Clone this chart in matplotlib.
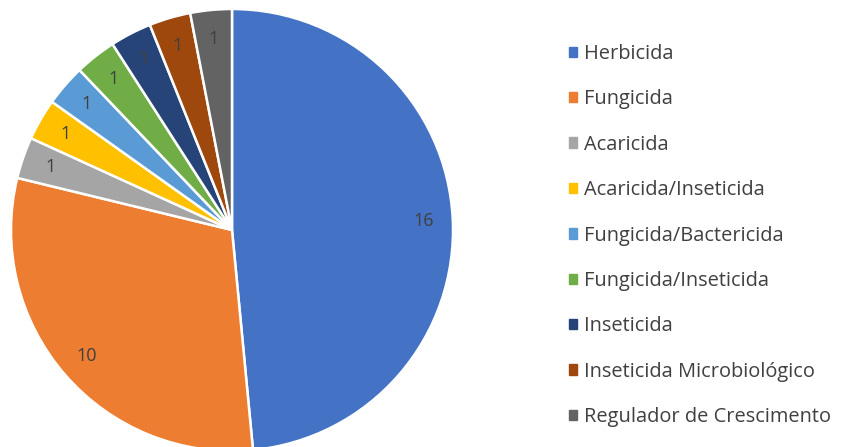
import matplotlib

matplotlib.use("Agg")
import matplotlib.pyplot as plt
from matplotlib.patches import Patch

categories = [
    "Herbicida",
    "Fungicida",
    "Acaricida",
    "Acaricida/Inseticida",
    "Fungicida/Bactericida",
    "Fungicida/Inseticida",
    "Inseticida",
    "Inseticida Microbiológico",
    "Regulador de Crescimento",
]
counts = [16, 10, 1, 1, 1, 1, 1, 1, 1]
colors = [
    "#4472C4", "#ED7D31", "#A5A5A5", "#FFC000", "#5B9BD5",
    "#70AD47", "#264478", "#9E480E", "#636363",
]

plt.rcParams["font.family"] = ["Open Sans", "DejaVu Sans"]

W, H = 843, 447
fig = plt.figure(figsize=(W / 100, H / 100), dpi=100)
fig.patch.set_facecolor("white")

cx, cy, r = 232, 217, 221
ax = fig.add_axes([(cx - r) / W, (cy - r) / H, 2 * r / W, 2 * r / H])

total = sum(counts)
wedges, texts, autotexts = ax.pie(
    counts,
    colors=colors,
    startangle=90,
    counterclock=False,
    radius=1.0,
    autopct=lambda p: f"{round(p * total / 100):d}",
    pctdistance=0.87,
    wedgeprops=dict(edgecolor="white", linewidth=1.8),
    textprops=dict(color="#404040", fontsize=13),
)
ax.set_xlim(-1, 1)
ax.set_ylim(-1, 1)
ax.set_aspect("equal")
ax.axis("off")

handles = [Patch(facecolor=c, edgecolor=c) for c in colors]
fig.legend(
    handles,
    categories,
    loc="upper left",
    bbox_to_anchor=(551 / W, 1 - 26 / H),
    frameon=False,
    fontsize=14.4,
    handlelength=0.42,
    handleheight=0.42,
    handletextpad=0.35,
    labelspacing=1.27,
    labelcolor="#404040",
)

fig.savefig("out.png", dpi=100)
